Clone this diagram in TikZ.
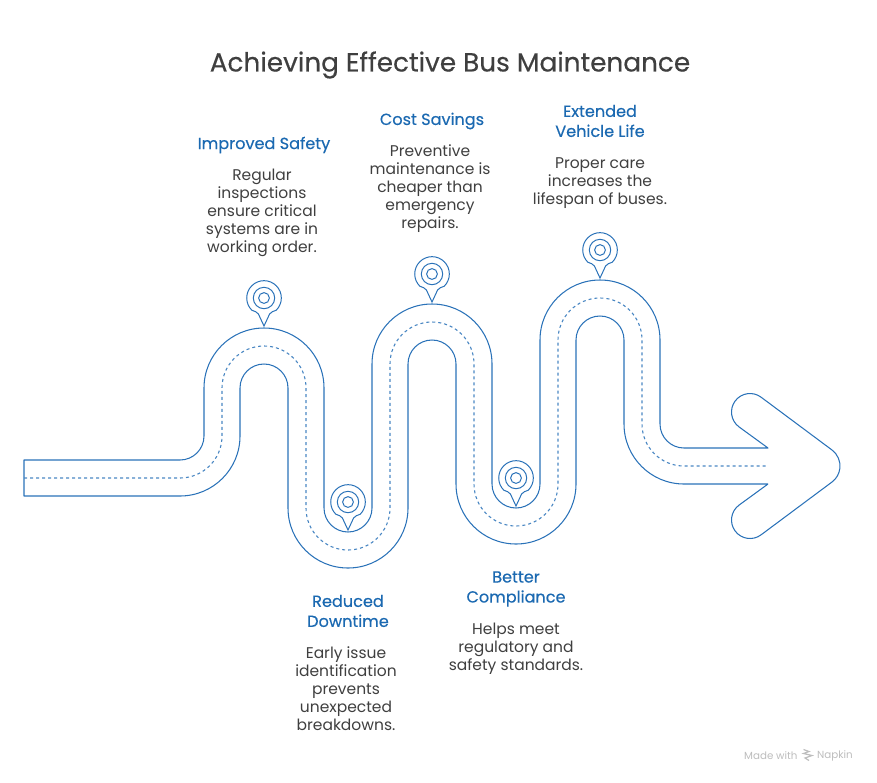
\documentclass[tikz,border=0pt]{standalone}
\usepackage{fontspec}
\setmainfont{Poppins}
\newfontfamily\medfont[FakeBold=0.35]{Poppins}
\definecolor{road}{HTML}{2A72B8}
\definecolor{head}{HTML}{1B69B1}
\definecolor{ink}{HTML}{3F3F3F}
\definecolor{wmgray}{HTML}{BDBDBD}
\tikzset{
  roadline/.style={draw=road,line width=1.05pt,line join=round},
  roaddash/.style={draw=road!85,line width=1.1pt,dash pattern=on 3pt off 3pt},
  pinline/.style={draw=road,line width=1pt},
  titletext/.style={text=ink,font=\medfont\fontsize{26.3}{30}\selectfont,inner sep=0pt},
  headtext/.style={text=head,align=center,font=\medfont\fontsize{16.1}{20}\selectfont,inner sep=0pt},
  bodytext/.style={text=ink,align=center,font=\fontsize{15.5}{18}\selectfont,inner sep=0pt},
  pin/.pic={
    \draw[pinline] (0,28) -- (-5.6,16) .. controls (-6.8,13.6) and (-9.5,13.6) .. (-12.2,12.2)
      arc[start angle=135,end angle=405,radius=17.3]
      .. controls (9.5,13.6) and (6.8,13.6) .. (5.6,16) -- cycle;
    \draw[pinline] (0,0) circle[radius=10.7];
    \draw[pinline] (0,0) circle[radius=5.4];
  }
}
\begin{document}
\begin{tikzpicture}[x=1pt,y=-1pt]
\useasboundingbox (0,0) rectangle (877,782);
% road, upper edge with arrowhead
\draw[roadline] (768,484) -- (684,484)
  arc[start angle=90,end angle=180,radius=60] -- (624,340)
  arc[start angle=360,end angle=180,radius=24] -- (576,484)
  arc[start angle=0,end angle=180,radius=60] -- (456,364)
  arc[start angle=360,end angle=180,radius=24] -- (408,508)
  arc[start angle=0,end angle=180,radius=60] -- (288,388)
  arc[start angle=360,end angle=180,radius=24] -- (240,436)
  arc[start angle=0,end angle=90,radius=60] -- (24,496) -- (24,460) -- (180,460)
  arc[start angle=90,end angle=0,radius=24] -- (204,388)
  arc[start angle=180,end angle=360,radius=60] -- (324,508)
  arc[start angle=180,end angle=0,radius=24] -- (372,364)
  arc[start angle=180,end angle=360,radius=60] -- (492,484)
  arc[start angle=180,end angle=0,radius=24] -- (540,340)
  arc[start angle=180,end angle=360,radius=60] -- (660,424)
  arc[start angle=180,end angle=90,radius=24] -- (768,448) -- (738.9,426.8)
  arc[start angle=126.87,end angle=306.87,radius=18.5] -- (832,450)
  arc[start angle=306.87,end angle=413.13,radius=20] -- (761.1,534.8)
  arc[start angle=53.13,end angle=233.13,radius=18.5] -- (768,484);
% centre line
\draw[roaddash] (24,478) -- (180,478)
  arc[start angle=90,end angle=0,radius=42] -- (222,388)
  arc[start angle=180,end angle=360,radius=42] -- (306,508)
  arc[start angle=180,end angle=0,radius=42] -- (390,364)
  arc[start angle=180,end angle=360,radius=42] -- (474,484)
  arc[start angle=180,end angle=0,radius=42] -- (558,340)
  arc[start angle=180,end angle=360,radius=42] -- (642,424)
  arc[start angle=180,end angle=90,radius=42] -- (767,466);
% pins
\pic at (264,298) {pin};
\pic at (348,502) {pin};
\pic at (432,274) {pin};
\pic at (516,478) {pin};
\pic at (600,250) {pin};
% text
\node[titletext] (title) at (450,65) {Achieving Effective Bus Maintenance};
\node[headtext] (h1) at (264,145) {Improved Safety};
\node[bodytext] (b1) at (262,213) {Regular\\inspections\\ensure critical\\systems are in\\working order.};
\node[headtext] (h2) at (348,611) {Reduced\\Downtime};
\node[bodytext] (b2) at (346,689) {Early issue\\identification\\prevents\\unexpected\\breakdowns.};
\node[headtext] (h3) at (432,121) {Cost Savings};
\node[bodytext] (b3) at (430,189) {Preventive\\maintenance is\\cheaper than\\emergency\\repairs.};
\node[headtext] (h4) at (516,589) {Better\\Compliance};
\node[bodytext] (b4) at (516,649) {Helps meet\\regulatory and\\safety standards.};
\node[headtext] (h5) at (600,121) {Extended\\Vehicle Life};
\node[bodytext] (b5) at (600,183) {Proper care\\increases the\\lifespan of buses.};
% footer
\node[text=wmgray,font=\fontsize{10.3}{12}\selectfont,inner sep=0pt,anchor=west] (made) at (744,755.5) {Made with};
\node[text=wmgray,font=\fontsize{10.3}{12}\selectfont,inner sep=0pt,anchor=west] (napkin) at (817,755.5) {Napkin};
\draw[wmgray,line width=1.2pt] (803.5,749.5) -- (809,751.5) -- (803.5,753.5) -- (812,755.5) -- (805,758) -- (809,760.5);
\end{tikzpicture}
\end{document}
